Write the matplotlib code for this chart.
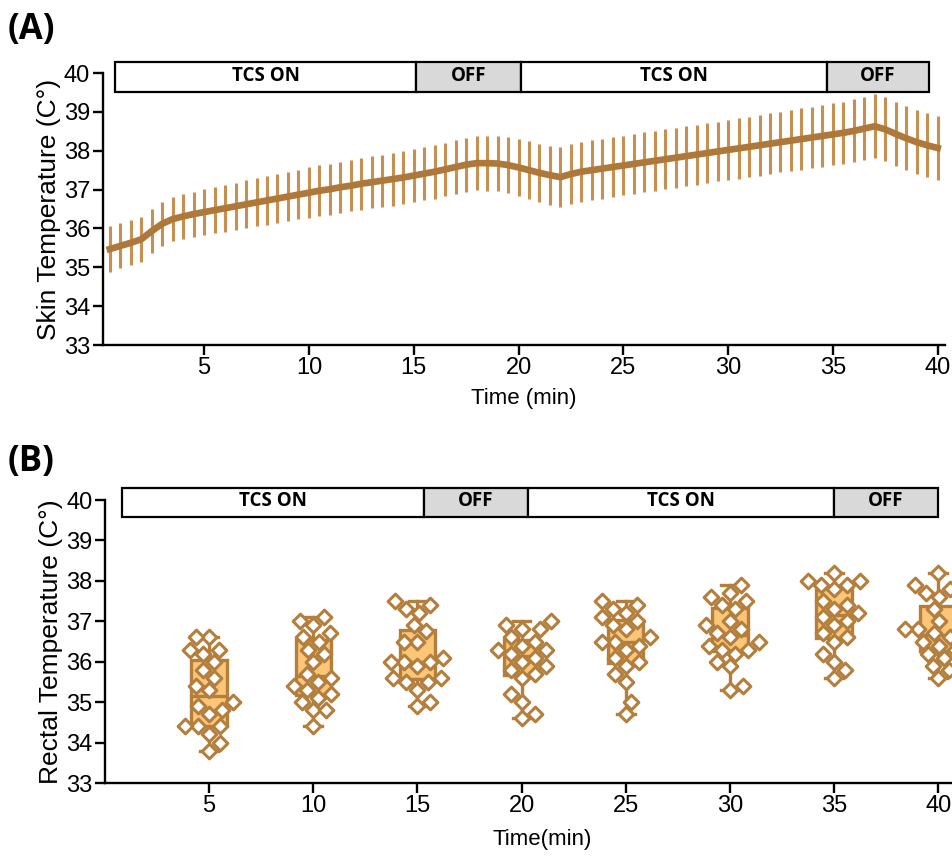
import numpy as np
import matplotlib
matplotlib.use("Agg")
import matplotlib.pyplot as plt
from matplotlib.patches import Rectangle

plt.rcParams['font.family'] = ['Liberation Sans', 'DejaVu Sans']

# ---------------- Panel A data ----------------
time_a = [0.5, 1.0, 1.5, 2.0, 2.5, 3.0, 3.5, 4.0, 4.5, 5.0,
          5.5, 6.0, 6.5, 7.0, 7.5, 8.0, 8.5, 9.0, 9.5, 10.0,
          10.5, 11.0, 11.5, 12.0, 12.5, 13.0, 13.5, 14.0, 14.5, 15.0,
          15.5, 16.0, 16.5, 17.0, 17.5, 18.0, 18.5, 19.0, 19.5, 20.0,
          20.5, 21.0, 21.5, 22.0, 22.5, 23.0, 23.5, 24.0, 24.5, 25.0,
          25.5, 26.0, 26.5, 27.0, 27.5, 28.0, 28.5, 29.0, 29.5, 30.0,
          30.5, 31.0, 31.5, 32.0, 32.5, 33.0, 33.5, 34.0, 34.5, 35.0,
          35.5, 36.0, 36.5, 37.0, 37.5, 38.0, 38.5, 39.0, 39.5, 40.0]
skin_mean = [35.47, 35.55, 35.63, 35.72, 35.93, 36.12, 36.24, 36.31, 36.37, 36.42,
             36.47, 36.52, 36.57, 36.62, 36.67, 36.72, 36.77, 36.82, 36.87, 36.92,
             36.97, 37.01, 37.06, 37.10, 37.15, 37.19, 37.23, 37.27, 37.31, 37.36,
             37.41, 37.46, 37.52, 37.58, 37.64, 37.68, 37.68, 37.67, 37.63, 37.57,
             37.50, 37.43, 37.37, 37.32, 37.40, 37.46, 37.50, 37.54, 37.58, 37.62,
             37.66, 37.70, 37.74, 37.78, 37.82, 37.86, 37.90, 37.94, 37.98, 38.02,
             38.06, 38.10, 38.14, 38.18, 38.22, 38.26, 38.30, 38.34, 38.38, 38.42,
             38.46, 38.51, 38.57, 38.63, 38.55, 38.43, 38.32, 38.22, 38.14, 38.07]
skin_err = [0.58, 0.58, 0.58, 0.58, 0.57, 0.56, 0.56, 0.57, 0.58, 0.59,
            0.60, 0.60, 0.61, 0.62, 0.62, 0.63, 0.63, 0.64, 0.64, 0.65,
            0.65, 0.66, 0.66, 0.66, 0.67, 0.67, 0.67, 0.68, 0.68, 0.68,
            0.69, 0.69, 0.69, 0.70, 0.70, 0.70, 0.71, 0.71, 0.72, 0.73,
            0.74, 0.75, 0.76, 0.77, 0.77, 0.77, 0.77, 0.77, 0.77, 0.77,
            0.77, 0.77, 0.77, 0.77, 0.77, 0.77, 0.77, 0.77, 0.77, 0.77,
            0.78, 0.78, 0.78, 0.78, 0.78, 0.79, 0.79, 0.79, 0.79, 0.80,
            0.80, 0.81, 0.82, 0.82, 0.82, 0.82, 0.82, 0.82, 0.82, 0.82]

# ---------------- Panel B data ----------------
time_b = [5, 10, 15, 20, 25, 30, 35, 40]
rectal = [
    [33.8, 34.0, 34.2, 34.4, 34.4, 34.4, 34.7, 34.8, 34.9, 35.0, 35.3, 35.4, 35.6, 35.8, 36.0, 36.2, 36.3, 36.3, 36.6, 36.6],
    [34.4, 34.8, 34.8, 35.0, 35.1, 35.2, 35.3, 35.4, 35.5, 35.6, 35.7, 36.0, 36.2, 36.3, 36.5, 36.6, 36.7, 36.9, 37.0, 37.1],
    [34.9, 35.0, 35.3, 35.5, 35.5, 35.6, 35.6, 35.9, 36.0, 36.0, 36.0, 36.1, 36.5, 36.5, 36.75, 36.9, 37.2, 37.3, 37.4, 37.5],
    [34.6, 34.7, 35.0, 35.2, 35.6, 35.7, 35.8, 35.9, 36.0, 36.1, 36.2, 36.3, 36.3, 36.4, 36.5, 36.6, 36.8, 36.8, 36.9, 37.0],
    [34.7, 35.0, 35.5, 35.7, 35.9, 36.0, 36.1, 36.3, 36.4, 36.5, 36.5, 36.6, 36.8, 36.9, 37.0, 37.1, 37.2, 37.3, 37.4, 37.5],
    [35.3, 35.4, 35.9, 36.0, 36.2, 36.3, 36.3, 36.4, 36.5, 36.6, 36.7, 36.8, 36.9, 37.0, 37.3, 37.4, 37.5, 37.6, 37.7, 37.9],
    [35.6, 35.8, 36.0, 36.2, 36.5, 36.6, 36.7, 36.9, 37.0, 37.1, 37.2, 37.3, 37.4, 37.5, 37.8, 37.9, 37.9, 38.0, 38.0, 38.2],
    [35.6, 35.8, 35.9, 36.1, 36.2, 36.3, 36.4, 36.5, 36.6, 36.6, 36.7, 36.8, 36.8, 37.0, 37.3, 37.6, 37.7, 37.8, 37.9, 38.2],
]

# Phase bars (label, start, end)
phase_labels = ['TCS ON', 'OFF', 'TCS ON', 'OFF']
phase_a = [0.76, 15.1, 20.1, 34.7, 39.6]
phase_b = [0.82, 15.3, 20.3, 35.0, 40.0]

brown = '#AE783A'
err_col = '#C69150'
box_fill = '#FBC677'
box_edge = '#B47E3C'

fig = plt.figure(figsize=(9.52, 8.58), dpi=100)


def style_axes(ax):
    for s in ['top', 'right']:
        ax.spines[s].set_visible(False)
    for s in ['left', 'bottom']:
        ax.spines[s].set_linewidth(1.7)
    ax.tick_params(direction='out', length=7, width=1.7, labelsize=17, pad=2)


def phase_bar(ax, edges, y0, y1):
    for i, lab in enumerate(phase_labels):
        face = 'white' if lab.startswith('TCS') else '#D9D9D9'
        r = Rectangle((edges[i], y0), edges[i + 1] - edges[i], y1 - y0,
                      facecolor=face, edgecolor='black', linewidth=1.6,
                      clip_on=False, zorder=5)
        ax.add_patch(r)
        ax.text((edges[i] + edges[i + 1]) / 2, (y0 + y1) / 2 + 0.03, lab,
                ha='center', va='center', fontsize=13.5, fontweight='bold',
                family=['Open Sans', 'DejaVu Sans'], zorder=6, clip_on=False)


# ---------------- Panel A ----------------
axA = fig.add_axes([102.7 / 952, 1 - 345 / 858, (945 - 102.7) / 952, (345 - 73) / 858])
axA.errorbar(time_a, skin_mean, yerr=skin_err, color=brown, ecolor=err_col,
             elinewidth=2.2, linewidth=4.8, capsize=0, zorder=3)
axA.set_xlim(0.16, 40.35)
axA.set_ylim(33, 40)
axA.set_xticks([5, 10, 15, 20, 25, 30, 35, 40])
axA.set_yticks([33, 34, 35, 36, 37, 38, 39, 40])
style_axes(axA)
axA.set_xlabel('Time (min)', fontsize=16, labelpad=6)
axA.set_ylabel('Skin Temperature (C°)', fontsize=19, labelpad=2)
phase_bar(axA, phase_a, 39.5, 40.28)
fig.text(8 / 952, 1 - 30 / 858, '(A)', fontsize=25, fontweight='bold',
         va='center', ha='left', family=['Open Sans', 'DejaVu Sans'])

# ---------------- Panel B ----------------
axB = fig.add_axes([104.9 / 952, 1 - 783 / 858, (979.8 - 104.9) / 952, (783 - 500) / 858])
axB.set_xlim(0, 42)
axB.set_ylim(33, 40)
bp = axB.boxplot(rectal, positions=time_b, widths=1.7, whis=(0, 100),
                 patch_artist=True, showfliers=False, manage_ticks=False,
                 capwidths=0.85,
                 boxprops=dict(facecolor=box_fill, edgecolor=box_edge, linewidth=2.4),
                 medianprops=dict(color=box_edge, linewidth=2.4),
                 whiskerprops=dict(color=box_edge, linewidth=2.4),
                 capprops=dict(color=box_edge, linewidth=2.4))

# deterministic beeswarm layout in pixel space (overlapping, GraphPad style)
min_dist = 13.0
for t, vals in zip(time_b, rectal):
    placed = []
    xs, ys = [], []
    side = 1
    for v in sorted(vals):
        cx, cy = axB.transData.transform((t, v))

        def ok(off):
            return all(np.hypot(cx + off - p[0], cy - p[1]) >= min_dist for p in placed)

        best = None
        for step in range(0, 40):
            for sgn in (side, -side):
                off = sgn * step * 1.0
                if ok(off):
                    best = off
                    break
            if best is not None:
                break
        if best is None:
            best = 0.0
        if best != 0:
            side = -int(np.sign(best))
        cand = (cx + best, cy)
        placed.append(cand)
        dx, dy = axB.transData.inverted().transform(cand)
        xs.append(dx)
        ys.append(dy)
    axB.scatter(xs, ys, marker='D', s=56, facecolor='white', edgecolor=box_edge,
                linewidth=2.2, zorder=4)

axB.set_xticks([5, 10, 15, 20, 25, 30, 35, 40])
axB.set_yticks([33, 34, 35, 36, 37, 38, 39, 40])
style_axes(axB)
axB.set_xlabel('Time(min)', fontsize=16, labelpad=8)
axB.set_ylabel('Rectal Temperature (C°)', fontsize=19, labelpad=2)
phase_bar(axB, phase_b, 39.58, 40.3)
fig.text(8 / 952, 1 - 462 / 858, '(B)', fontsize=25, fontweight='bold',
         va='center', ha='left', family=['Open Sans', 'DejaVu Sans'])

fig.savefig('out.png', dpi=100)
